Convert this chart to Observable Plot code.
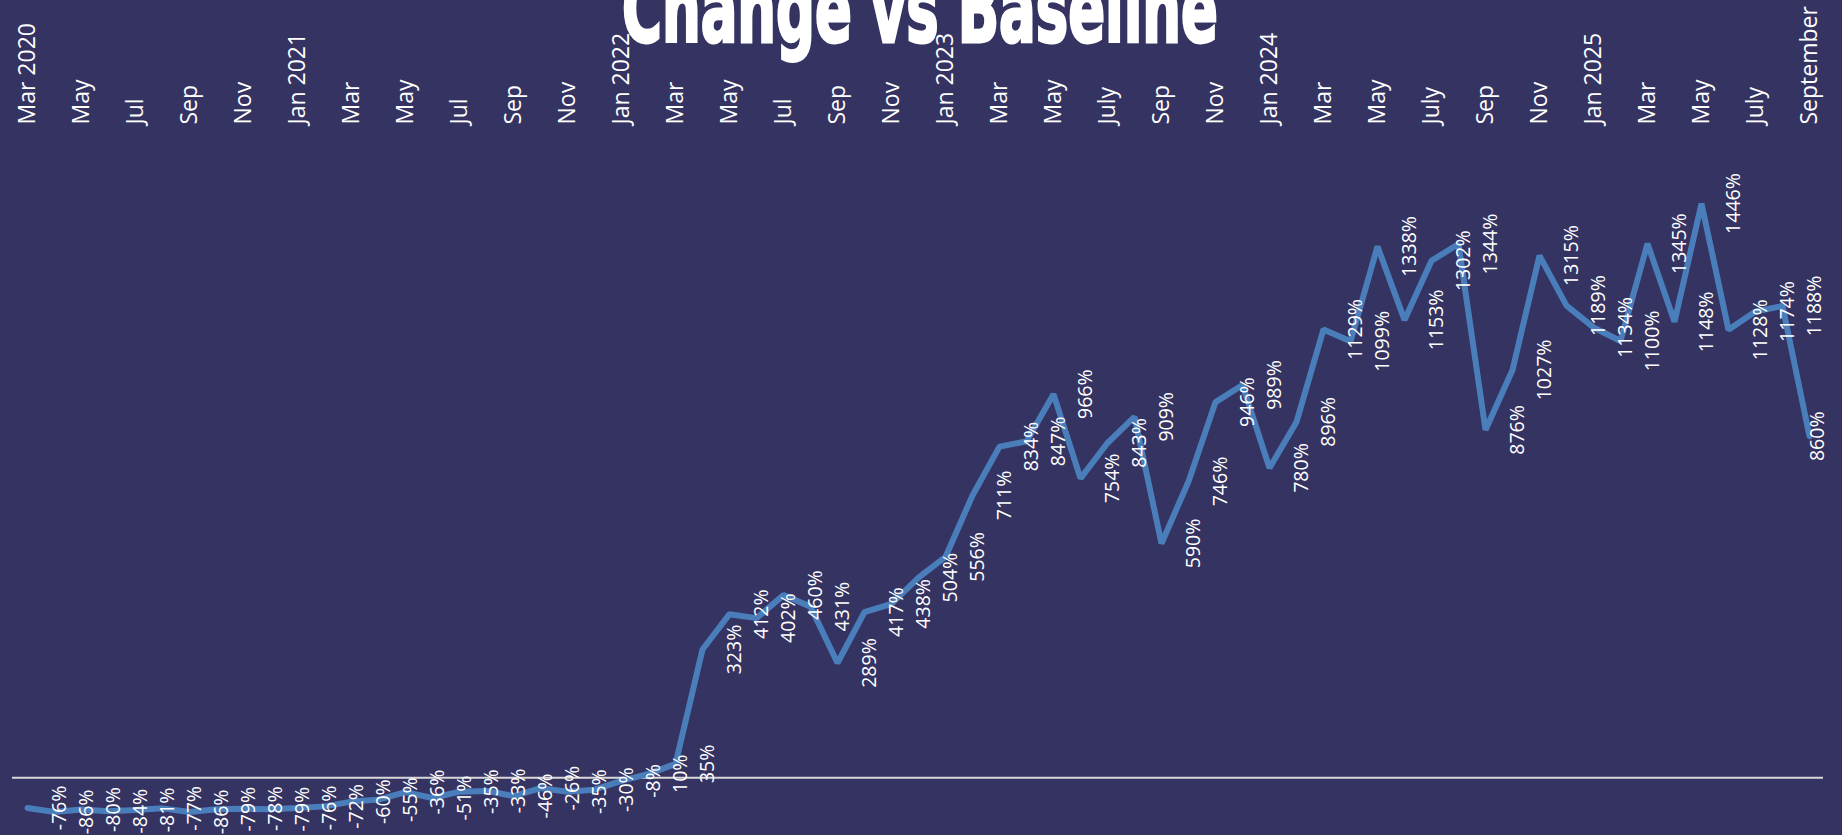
<!DOCTYPE html>
<html>
<head>
<meta charset="utf-8">
<script src="https://cdn.jsdelivr.net/npm/d3@7"></script>
<script src="https://cdn.jsdelivr.net/npm/@observablehq/plot@0.6"></script>
<style>
  html, body { margin: 0; padding: 0; background: #343362; overflow: hidden; }
  #wrap { position: relative; width: 1842px; height: 835px; }
  #title {
    position: absolute; left: 920px; top: -36px; z-index: 2;
    font-family: "DejaVu Sans Condensed", "DejaVu Sans", sans-serif;
    font-stretch: condensed; font-weight: 900; font-size: 93px; line-height: 1;
    color: #ffffff; white-space: nowrap; transform-origin: 0 0;
    -webkit-text-stroke: 3px #ffffff;
  }
  #chart { position: absolute; left: 0; top: 0; z-index: 1; }
</style>
</head>
<body>
<div id="wrap">
  <div id="chart"></div>
  <div id="title">Change vs Baseline</div>
</div>
<script>
const months = [
  "2020-03","2020-04","2020-05","2020-06","2020-07","2020-08","2020-09","2020-10","2020-11","2020-12",
  "2021-01","2021-02","2021-03","2021-04","2021-05","2021-06","2021-07","2021-08","2021-09","2021-10","2021-11","2021-12",
  "2022-01","2022-02","2022-03","2022-04","2022-05","2022-06","2022-07","2022-08","2022-09","2022-10","2022-11","2022-12",
  "2023-01","2023-02","2023-03","2023-04","2023-05","2023-06","2023-07","2023-08","2023-09","2023-10","2023-11","2023-12",
  "2024-01","2024-02","2024-03","2024-04","2024-05","2024-06","2024-07","2024-08","2024-09","2024-10","2024-11","2024-12",
  "2025-01","2025-02","2025-03","2025-04","2025-05","2025-06","2025-07","2025-08","2025-09"
];
const changePct = [
  -76, -86, -80, -84, -81, -77, -86, -79, -78, -79,
  -76, -72, -60, -55, -36, -51, -35, -33, -46, -26, -35, -30,
  -8, 10, 35, 323, 412, 402, 460, 431, 289, 417, 438, 504,
  556, 711, 834, 847, 966, 754, 843, 909, 590, 746, 946, 989,
  780, 896, 1129, 1099, 1338, 1153, 1302, 1344, 876, 1027, 1315, 1189,
  1134, 1100, 1345, 1148, 1446, 1128, 1174, 1188, 860
];
const tickMonths = [
  "2020-03","2020-05","2020-07","2020-09","2020-11",
  "2021-01","2021-03","2021-05","2021-07","2021-09","2021-11",
  "2022-01","2022-03","2022-05","2022-07","2022-09","2022-11",
  "2023-01","2023-03","2023-05","2023-07","2023-09","2023-11",
  "2024-01","2024-03","2024-05","2024-07","2024-09","2024-11",
  "2025-01","2025-03","2025-05","2025-07","2025-09"
];
const tickLabels = [
  "Mar 2020","May","Jul","Sep","Nov",
  "Jan 2021","Mar","May","Jul","Sep","Nov",
  "Jan 2022","Mar","May","Jul","Sep","Nov",
  "Jan 2023","Mar","May","July","Sep","Nov",
  "Jan 2024","Mar","May","July","Sep","Nov",
  "Jan 2025","Mar","May","July","September"
];

const data = months.map((m, i) => ({month: m, value: changePct[i], label: changePct[i] + "%"}));
const tickMap = new Map(tickMonths.map((m, i) => [m, tickLabels[i]]));
const lastIdx = data.length - 1;

const chart = Plot.plot({
  width: 1842,
  height: 835,
  marginLeft: 12,
  marginRight: 19,
  marginTop: 126,
  marginBottom: 18,
  style: {background: "transparent", color: "#ffffff", fontFamily: "'Open Sans', sans-serif", overflow: "visible"},
  x: {type: "point", domain: months, padding: 0.52, axis: null},
  y: {domain: [-100, 1640], axis: null},
  marks: [
    Plot.ruleY([0], {stroke: "#d9d9d9", strokeWidth: 2}),
    Plot.line(data, {x: "month", y: "value", stroke: "#4a7ebb", strokeWidth: 6, strokeLinejoin: "miter", strokeLinecap: "round"}),
    Plot.text(data.filter((d, i) => i < lastIdx), {
      x: "month", y: "value", text: "label", rotate: -90, dx: 32,
      textAnchor: "middle", lineAnchor: "middle", fill: "#ffffff", fontSize: 19.5
    }),
    Plot.text(data.filter((d, i) => i === lastIdx), {
      x: "month", y: "value", text: "label", rotate: -90, dx: 8,
      textAnchor: "middle", lineAnchor: "middle", fill: "#ffffff", fontSize: 19.5
    }),
    Plot.axisX({
      anchor: "top", ticks: tickMonths, tickFormat: (d) => tickMap.get(d),
      tickSize: 0, tickPadding: 2, tickRotate: -90,
      textAnchor: "start", lineAnchor: "middle",
      fontSize: 23, fill: "#ffffff", label: null
    })
  ]
});
document.getElementById("chart").appendChild(chart);

// fit the title to the reference width (about 596px), centred at x = 920
const t = document.getElementById("title");
const w = t.getBoundingClientRect().width;
const s = 596 / w;
t.style.transform = `scaleX(${s}) translateX(-50%)`;
</script>
</body>
</html>
